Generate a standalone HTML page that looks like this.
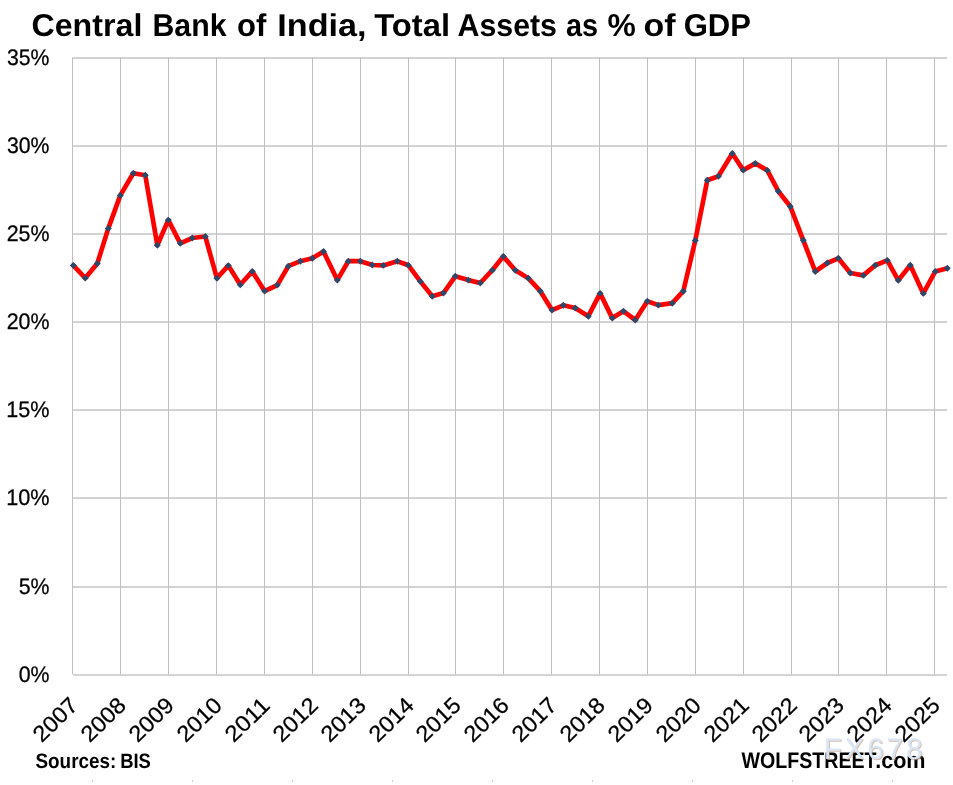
<!DOCTYPE html>
<html lang="en"><head><meta charset="utf-8"><title>Central Bank of India, Total Assets as % of GDP</title>
<style>html,body{margin:0;padding:0;background:#fff;}body{width:953px;height:785px;overflow:hidden;}svg{display:block;}text{font-family:"Liberation Sans", Arial, sans-serif;text-rendering:geometricPrecision;}</style></head><body>
<svg width="953" height="785" viewBox="0 0 953 785">
<rect width="953" height="785" fill="#ffffff"/>
<g stroke="#d3d3d3" stroke-width="2" fill="none">
<line x1="73" y1="58" x2="947.0" y2="58"/>
<line x1="73" y1="146" x2="947.0" y2="146"/>
<line x1="73" y1="234" x2="947.0" y2="234"/>
<line x1="73" y1="322" x2="947.0" y2="322"/>
<line x1="73" y1="410" x2="947.0" y2="410"/>
<line x1="73" y1="498" x2="947.0" y2="498"/>
<line x1="73" y1="587" x2="947.0" y2="587"/>
<line x1="73" y1="675" x2="947.0" y2="675"/>
</g>
<g stroke="#bfbfbf" stroke-width="1" fill="none">
<line x1="72.5" y1="57.4" x2="72.5" y2="674.4"/>
<line x1="120.5" y1="57.4" x2="120.5" y2="674.4"/>
<line x1="168.5" y1="57.4" x2="168.5" y2="674.4"/>
<line x1="216.5" y1="57.4" x2="216.5" y2="674.4"/>
<line x1="264.5" y1="57.4" x2="264.5" y2="674.4"/>
<line x1="312.5" y1="57.4" x2="312.5" y2="674.4"/>
<line x1="360.5" y1="57.4" x2="360.5" y2="674.4"/>
<line x1="408.5" y1="57.4" x2="408.5" y2="674.4"/>
<line x1="455.5" y1="57.4" x2="455.5" y2="674.4"/>
<line x1="503.5" y1="57.4" x2="503.5" y2="674.4"/>
<line x1="551.5" y1="57.4" x2="551.5" y2="674.4"/>
<line x1="599.5" y1="57.4" x2="599.5" y2="674.4"/>
<line x1="647.5" y1="57.4" x2="647.5" y2="674.4"/>
<line x1="695.5" y1="57.4" x2="695.5" y2="674.4"/>
<line x1="743.5" y1="57.4" x2="743.5" y2="674.4"/>
<line x1="791.5" y1="57.4" x2="791.5" y2="674.4"/>
<line x1="838.5" y1="57.4" x2="838.5" y2="674.4"/>
<line x1="886.5" y1="57.4" x2="886.5" y2="674.4"/>
<line x1="934.5" y1="57.4" x2="934.5" y2="674.4"/>
</g>
<polyline points="73.30,265.40 85.30,278.10 97.30,263.50 108.30,228.40 120.30,195.40 133.30,173.30 145.30,175.30 157.30,245.20 168.30,220.10 180.30,243.30 192.30,238.00 205.30,236.50 216.90,278.20 228.30,265.60 240.30,284.80 252.30,271.40 264.60,291.10 277.30,285.10 288.30,266.20 300.30,261.20 312.30,258.30 323.50,251.50 337.30,280.10 348.30,261.20 360.30,261.20 372.30,265.00 383.30,265.40 397.30,261.20 408.30,265.20 420.30,281.40 432.30,296.30 443.40,293.10 455.30,276.30 468.30,280.10 480.30,283.00 492.30,270.20 503.30,256.40 515.30,270.20 528.30,278.20 540.30,291.20 552.00,310.10 563.30,305.30 575.20,308.00 588.30,316.20 600.10,293.40 612.30,318.10 623.40,311.20 635.30,320.00 647.30,301.30 658.30,305.10 672.30,303.20 683.30,291.20 695.30,240.40 707.30,180.30 718.40,176.20 732.30,153.50 743.30,170.10 755.30,163.40 767.30,170.40 778.30,191.20 790.30,206.50 803.30,240.30 815.30,271.50 827.30,263.00 838.30,258.30 850.30,273.00 863.30,275.40 875.30,265.30 887.30,260.40 898.30,280.30 910.30,265.30 923.30,293.40 935.30,271.40 947.30,268.20" fill="none" stroke="#ff0000" stroke-width="4.7" stroke-linejoin="round" stroke-linecap="round"/>
<g fill="#2b4a6b">
<path d="M73.30 261.95l3.45 3.45l-3.45 3.45l-3.45 -3.45z"/>
<path d="M85.30 274.65l3.45 3.45l-3.45 3.45l-3.45 -3.45z"/>
<path d="M97.30 260.05l3.45 3.45l-3.45 3.45l-3.45 -3.45z"/>
<path d="M108.30 224.95l3.45 3.45l-3.45 3.45l-3.45 -3.45z"/>
<path d="M120.30 191.95l3.45 3.45l-3.45 3.45l-3.45 -3.45z"/>
<path d="M133.30 169.85l3.45 3.45l-3.45 3.45l-3.45 -3.45z"/>
<path d="M145.30 171.85l3.45 3.45l-3.45 3.45l-3.45 -3.45z"/>
<path d="M157.30 241.75l3.45 3.45l-3.45 3.45l-3.45 -3.45z"/>
<path d="M168.30 216.65l3.45 3.45l-3.45 3.45l-3.45 -3.45z"/>
<path d="M180.30 239.85l3.45 3.45l-3.45 3.45l-3.45 -3.45z"/>
<path d="M192.30 234.55l3.45 3.45l-3.45 3.45l-3.45 -3.45z"/>
<path d="M205.30 233.05l3.45 3.45l-3.45 3.45l-3.45 -3.45z"/>
<path d="M216.90 274.75l3.45 3.45l-3.45 3.45l-3.45 -3.45z"/>
<path d="M228.30 262.15l3.45 3.45l-3.45 3.45l-3.45 -3.45z"/>
<path d="M240.30 281.35l3.45 3.45l-3.45 3.45l-3.45 -3.45z"/>
<path d="M252.30 267.95l3.45 3.45l-3.45 3.45l-3.45 -3.45z"/>
<path d="M264.60 287.65l3.45 3.45l-3.45 3.45l-3.45 -3.45z"/>
<path d="M277.30 281.65l3.45 3.45l-3.45 3.45l-3.45 -3.45z"/>
<path d="M288.30 262.75l3.45 3.45l-3.45 3.45l-3.45 -3.45z"/>
<path d="M300.30 257.75l3.45 3.45l-3.45 3.45l-3.45 -3.45z"/>
<path d="M312.30 254.85l3.45 3.45l-3.45 3.45l-3.45 -3.45z"/>
<path d="M323.50 248.05l3.45 3.45l-3.45 3.45l-3.45 -3.45z"/>
<path d="M337.30 276.65l3.45 3.45l-3.45 3.45l-3.45 -3.45z"/>
<path d="M348.30 257.75l3.45 3.45l-3.45 3.45l-3.45 -3.45z"/>
<path d="M360.30 257.75l3.45 3.45l-3.45 3.45l-3.45 -3.45z"/>
<path d="M372.30 261.55l3.45 3.45l-3.45 3.45l-3.45 -3.45z"/>
<path d="M383.30 261.95l3.45 3.45l-3.45 3.45l-3.45 -3.45z"/>
<path d="M397.30 257.75l3.45 3.45l-3.45 3.45l-3.45 -3.45z"/>
<path d="M408.30 261.75l3.45 3.45l-3.45 3.45l-3.45 -3.45z"/>
<path d="M420.30 277.95l3.45 3.45l-3.45 3.45l-3.45 -3.45z"/>
<path d="M432.30 292.85l3.45 3.45l-3.45 3.45l-3.45 -3.45z"/>
<path d="M443.40 289.65l3.45 3.45l-3.45 3.45l-3.45 -3.45z"/>
<path d="M455.30 272.85l3.45 3.45l-3.45 3.45l-3.45 -3.45z"/>
<path d="M468.30 276.65l3.45 3.45l-3.45 3.45l-3.45 -3.45z"/>
<path d="M480.30 279.55l3.45 3.45l-3.45 3.45l-3.45 -3.45z"/>
<path d="M492.30 266.75l3.45 3.45l-3.45 3.45l-3.45 -3.45z"/>
<path d="M503.30 252.95l3.45 3.45l-3.45 3.45l-3.45 -3.45z"/>
<path d="M515.30 266.75l3.45 3.45l-3.45 3.45l-3.45 -3.45z"/>
<path d="M528.30 274.75l3.45 3.45l-3.45 3.45l-3.45 -3.45z"/>
<path d="M540.30 287.75l3.45 3.45l-3.45 3.45l-3.45 -3.45z"/>
<path d="M552.00 306.65l3.45 3.45l-3.45 3.45l-3.45 -3.45z"/>
<path d="M563.30 301.85l3.45 3.45l-3.45 3.45l-3.45 -3.45z"/>
<path d="M575.20 304.55l3.45 3.45l-3.45 3.45l-3.45 -3.45z"/>
<path d="M588.30 312.75l3.45 3.45l-3.45 3.45l-3.45 -3.45z"/>
<path d="M600.10 289.95l3.45 3.45l-3.45 3.45l-3.45 -3.45z"/>
<path d="M612.30 314.65l3.45 3.45l-3.45 3.45l-3.45 -3.45z"/>
<path d="M623.40 307.75l3.45 3.45l-3.45 3.45l-3.45 -3.45z"/>
<path d="M635.30 316.55l3.45 3.45l-3.45 3.45l-3.45 -3.45z"/>
<path d="M647.30 297.85l3.45 3.45l-3.45 3.45l-3.45 -3.45z"/>
<path d="M658.30 301.65l3.45 3.45l-3.45 3.45l-3.45 -3.45z"/>
<path d="M672.30 299.75l3.45 3.45l-3.45 3.45l-3.45 -3.45z"/>
<path d="M683.30 287.75l3.45 3.45l-3.45 3.45l-3.45 -3.45z"/>
<path d="M695.30 236.95l3.45 3.45l-3.45 3.45l-3.45 -3.45z"/>
<path d="M707.30 176.85l3.45 3.45l-3.45 3.45l-3.45 -3.45z"/>
<path d="M718.40 172.75l3.45 3.45l-3.45 3.45l-3.45 -3.45z"/>
<path d="M732.30 150.05l3.45 3.45l-3.45 3.45l-3.45 -3.45z"/>
<path d="M743.30 166.65l3.45 3.45l-3.45 3.45l-3.45 -3.45z"/>
<path d="M755.30 159.95l3.45 3.45l-3.45 3.45l-3.45 -3.45z"/>
<path d="M767.30 166.95l3.45 3.45l-3.45 3.45l-3.45 -3.45z"/>
<path d="M778.30 187.75l3.45 3.45l-3.45 3.45l-3.45 -3.45z"/>
<path d="M790.30 203.05l3.45 3.45l-3.45 3.45l-3.45 -3.45z"/>
<path d="M803.30 236.85l3.45 3.45l-3.45 3.45l-3.45 -3.45z"/>
<path d="M815.30 268.05l3.45 3.45l-3.45 3.45l-3.45 -3.45z"/>
<path d="M827.30 259.55l3.45 3.45l-3.45 3.45l-3.45 -3.45z"/>
<path d="M838.30 254.85l3.45 3.45l-3.45 3.45l-3.45 -3.45z"/>
<path d="M850.30 269.55l3.45 3.45l-3.45 3.45l-3.45 -3.45z"/>
<path d="M863.30 271.95l3.45 3.45l-3.45 3.45l-3.45 -3.45z"/>
<path d="M875.30 261.85l3.45 3.45l-3.45 3.45l-3.45 -3.45z"/>
<path d="M887.30 256.95l3.45 3.45l-3.45 3.45l-3.45 -3.45z"/>
<path d="M898.30 276.85l3.45 3.45l-3.45 3.45l-3.45 -3.45z"/>
<path d="M910.30 261.85l3.45 3.45l-3.45 3.45l-3.45 -3.45z"/>
<path d="M923.30 289.95l3.45 3.45l-3.45 3.45l-3.45 -3.45z"/>
<path d="M935.30 267.95l3.45 3.45l-3.45 3.45l-3.45 -3.45z"/>
<path d="M947.30 264.75l3.45 3.45l-3.45 3.45l-3.45 -3.45z"/>
</g>
<text y="36.1" font-size="31.5" font-weight="bold" fill="#000"><tspan x="31.46" textLength="110.87" lengthAdjust="spacingAndGlyphs">Central</tspan> <tspan x="152.44" textLength="74.06" lengthAdjust="spacingAndGlyphs">Bank</tspan> <tspan x="236.96" textLength="29.29" lengthAdjust="spacingAndGlyphs">of</tspan> <tspan x="277.39" textLength="89.22" lengthAdjust="spacingAndGlyphs">India,</tspan> <tspan x="374.24" textLength="75.84" lengthAdjust="spacingAndGlyphs">Total</tspan> <tspan x="457.48" textLength="99.54" lengthAdjust="spacingAndGlyphs">Assets</tspan> <tspan x="565.95" textLength="32.11" lengthAdjust="spacingAndGlyphs">as</tspan> <tspan x="607.46" textLength="28.34" lengthAdjust="spacingAndGlyphs">%</tspan> <tspan x="643.46" textLength="32.04" lengthAdjust="spacingAndGlyphs">of</tspan> <tspan x="683.71" textLength="67.32" lengthAdjust="spacingAndGlyphs">GDP</tspan></text>
<text y="767.6" font-size="20.8" font-weight="bold" fill="#000"><tspan x="35.48" textLength="80.82" lengthAdjust="spacingAndGlyphs">Sources:</tspan> <tspan x="120.18" textLength="30.61" lengthAdjust="spacingAndGlyphs">BIS</tspan></text>
<text y="767.6" font-size="22.7" font-weight="bold" fill="#000"><tspan x="741.50" textLength="135.00" lengthAdjust="spacingAndGlyphs">WOLFSTREET</tspan><tspan x="875.17" textLength="50.40" lengthAdjust="spacingAndGlyphs">.com</tspan></text>
<text x="6.97" y="64.7" font-size="22.5" font-weight="normal" fill="#000" stroke="#000" stroke-width="0.25" textLength="42.56" lengthAdjust="spacingAndGlyphs">35%</text>
<text x="6.97" y="152.7" font-size="22.5" font-weight="normal" fill="#000" stroke="#000" stroke-width="0.25" textLength="42.56" lengthAdjust="spacingAndGlyphs">30%</text>
<text x="6.71" y="240.7" font-size="22.5" font-weight="normal" fill="#000" stroke="#000" stroke-width="0.25" textLength="42.83" lengthAdjust="spacingAndGlyphs">25%</text>
<text x="6.71" y="328.7" font-size="22.5" font-weight="normal" fill="#000" stroke="#000" stroke-width="0.25" textLength="42.83" lengthAdjust="spacingAndGlyphs">20%</text>
<text x="6.16" y="416.7" font-size="22.5" font-weight="normal" fill="#000" stroke="#000" stroke-width="0.25" textLength="43.38" lengthAdjust="spacingAndGlyphs">15%</text>
<text x="6.16" y="504.7" font-size="22.5" font-weight="normal" fill="#000" stroke="#000" stroke-width="0.25" textLength="43.38" lengthAdjust="spacingAndGlyphs">10%</text>
<text x="18.70" y="593.7" font-size="22.5" font-weight="normal" fill="#000" stroke="#000" stroke-width="0.25" textLength="30.85" lengthAdjust="spacingAndGlyphs">5%</text>
<text x="18.70" y="681.7" font-size="22.5" font-weight="normal" fill="#000" stroke="#000" stroke-width="0.25" textLength="30.85" lengthAdjust="spacingAndGlyphs">0%</text>
<g font-size="22.5" fill="#000" stroke="#000" stroke-width="0.25" text-anchor="end">
<text transform="translate(79.3,707.0) rotate(-44)" textLength="52.2" lengthAdjust="spacingAndGlyphs">2007</text>
<text transform="translate(127.3,707.0) rotate(-44)" textLength="52.2" lengthAdjust="spacingAndGlyphs">2008</text>
<text transform="translate(175.3,707.0) rotate(-44)" textLength="52.2" lengthAdjust="spacingAndGlyphs">2009</text>
<text transform="translate(223.3,707.0) rotate(-44)" textLength="52.2" lengthAdjust="spacingAndGlyphs">2010</text>
<text transform="translate(271.3,707.0) rotate(-44)" textLength="52.2" lengthAdjust="spacingAndGlyphs">2011</text>
<text transform="translate(319.3,707.0) rotate(-44)" textLength="52.2" lengthAdjust="spacingAndGlyphs">2012</text>
<text transform="translate(367.3,707.0) rotate(-44)" textLength="52.2" lengthAdjust="spacingAndGlyphs">2013</text>
<text transform="translate(415.3,707.0) rotate(-44)" textLength="52.2" lengthAdjust="spacingAndGlyphs">2014</text>
<text transform="translate(462.3,707.0) rotate(-44)" textLength="52.2" lengthAdjust="spacingAndGlyphs">2015</text>
<text transform="translate(510.3,707.0) rotate(-44)" textLength="52.2" lengthAdjust="spacingAndGlyphs">2016</text>
<text transform="translate(558.3,707.0) rotate(-44)" textLength="52.2" lengthAdjust="spacingAndGlyphs">2017</text>
<text transform="translate(606.3,707.0) rotate(-44)" textLength="52.2" lengthAdjust="spacingAndGlyphs">2018</text>
<text transform="translate(654.3,707.0) rotate(-44)" textLength="52.2" lengthAdjust="spacingAndGlyphs">2019</text>
<text transform="translate(702.3,707.0) rotate(-44)" textLength="52.2" lengthAdjust="spacingAndGlyphs">2020</text>
<text transform="translate(750.3,707.0) rotate(-44)" textLength="52.2" lengthAdjust="spacingAndGlyphs">2021</text>
<text transform="translate(798.3,707.0) rotate(-44)" textLength="52.2" lengthAdjust="spacingAndGlyphs">2022</text>
<text transform="translate(845.3,707.0) rotate(-44)" textLength="52.2" lengthAdjust="spacingAndGlyphs">2023</text>
<text transform="translate(893.3,707.0) rotate(-44)" textLength="52.2" lengthAdjust="spacingAndGlyphs">2024</text>
<text transform="translate(941.3,707.0) rotate(-44)" textLength="52.2" lengthAdjust="spacingAndGlyphs">2025</text>
</g>
<g stroke="#cfcfcf" stroke-width="1">
<line x1="92.5" y1="780" x2="92.5" y2="782"/>
<line x1="192.5" y1="780" x2="192.5" y2="782"/>
<line x1="292.5" y1="780" x2="292.5" y2="782"/>
<line x1="392.5" y1="780" x2="392.5" y2="782"/>
<line x1="492.5" y1="780" x2="492.5" y2="782"/>
<line x1="592.5" y1="780" x2="592.5" y2="782"/>
<line x1="692.5" y1="780" x2="692.5" y2="782"/>
<line x1="792.5" y1="780" x2="792.5" y2="782"/>
<line x1="892.5" y1="780" x2="892.5" y2="782"/>
</g>
<text x="823.65" y="759.2" font-size="29.8" fill="#d8e6f7" style="filter:drop-shadow(1px 1px 0 rgba(190,150,118,0.6))" textLength="98.89" lengthAdjust="spacing">FX678</text>
</svg></body></html>
